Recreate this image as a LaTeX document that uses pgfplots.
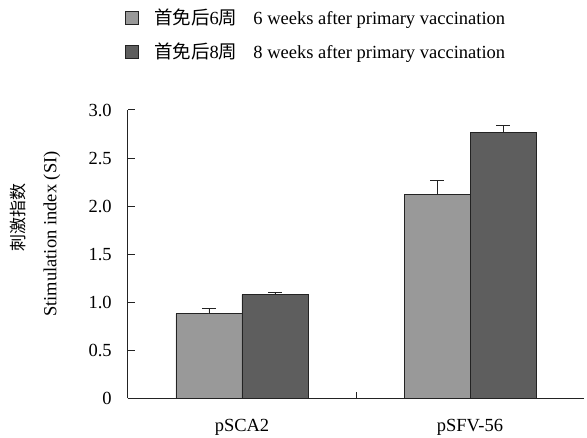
\documentclass[border=0pt]{standalone}
\usepackage{pgfplots}
\pgfplotsset{compat=1.18}
\usepackage{fontspec}
\setmainfont{Liberation Serif}
\newfontfamily\cjk{Noto Sans CJK SC}
\definecolor{lightbar}{RGB}{153,153,153}
\definecolor{darkbar}{RGB}{94,94,94}
\definecolor{edge}{RGB}{35,35,35}
\begin{document}
\fontsize{18.5bp}{21bp}\selectfont
\begin{tikzpicture}
\useasboundingbox (-128bp,-39.5bp) rectangle (459bp,398.5bp);
\begin{axis}[
  scale only axis, width=456bp, height=288.5bp,
  at={(0,0)}, anchor=south west,
  xmin=-0.5, xmax=1.5, ymin=0, ymax=3,
  axis x line*=bottom, axis y line*=left,
  axis line style={line width=1pt, draw=edge},
  ybar, bar width=66bp,
  ytick={0,0.5,1,1.5,2,2.5,3},
  yticklabels={0,0.5,1.0,1.5,2.0,2.5,3.0},
  xtick={0.5}, xticklabels={},
  tick align=inside,
  major tick length=7bp,
  tick style={line width=1pt, draw=edge},
  extra x ticks={0,1},
  extra x tick labels={pSCA2,pSFV-56},
  extra x tick style={major tick length=0bp, tick style={draw=none}},
  xticklabel style={yshift=-14bp},
  yticklabel style={xshift=-10bp},
  tick label style={font=\fontsize{18.5bp}{21bp}\selectfont},
  /pgf/number format/assume math mode=true,
  legend image code/.code={\draw[#1, line width=1pt] (0bp,-6.5bp) rectangle (13bp,6.5bp);},
  legend style={at={(axis description cs:-0.0066,1.359)}, anchor=north west, draw=none, fill=none,
    font=\fontsize{18.5bp}{21bp}\selectfont, row sep=12bp, inner sep=0pt,
    /tikz/every even column/.append style={column sep=0bp}},
  legend cell align=left,
  clip=false,
]
\addplot[fill=lightbar, draw=edge, line width=1pt, bar shift=-33bp,
  error bars/.cd, y dir=plus, y explicit,
  error bar style={line width=1pt, draw=edge},
  error mark options={rotate=90, mark size=7bp, line width=1pt, draw=edge}]
  coordinates {(0,0.88) +- (0,0.06) (1,2.12) +- (0,0.15)};
\addlegendentry{\hspace{13bp}{\cjk 首免后}6{\cjk 周}\hspace{16bp}6 weeks after primary vaccination}
\addplot[fill=darkbar, draw=edge, line width=1pt, bar shift=33bp,
  error bars/.cd, y dir=plus, y explicit,
  error bar style={line width=1pt, draw=edge},
  error mark options={rotate=90, mark size=7bp, line width=1pt, draw=edge}]
  coordinates {(0,1.08) +- (0,0.02) (1,2.77) +- (0,0.07)};
\addlegendentry{\hspace{13bp}{\cjk 首免后}8{\cjk 周}\hspace{16bp}8 weeks after primary vaccination}
\node[rotate=90, font=\fontsize{18.5bp}{21bp}\selectfont] at (axis description cs:-0.167,0.57) {Stimulation index (SI)};
\node[rotate=90, font=\fontsize{17bp}{21bp}\selectfont\cjk] at (axis description cs:-0.241,0.629) {刺激指数};
\end{axis}
\end{tikzpicture}
\end{document}
